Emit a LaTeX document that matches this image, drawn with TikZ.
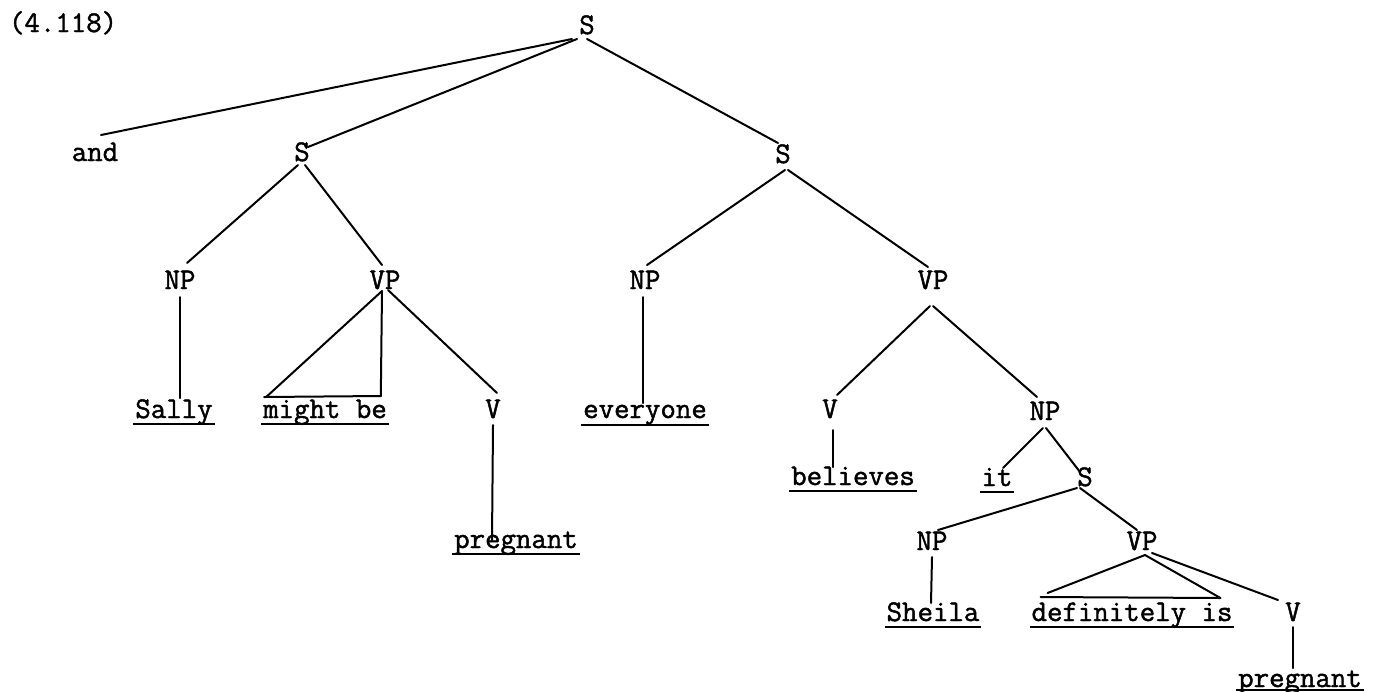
\documentclass[tikz,border=0pt]{standalone}
\usepackage{fontspec}
\newfontfamily\tw[FakeBold=1.5]{Latin Modern Mono}
\usetikzlibrary{calc}
\begin{document}
\begin{tikzpicture}[x=0.5pt,y=-0.5pt,
  lbl/.style={font=\tw\fontsize{15}{17}\selectfont, inner sep=0pt, outer sep=0pt, anchor=base},
  edge/.style={line width=1pt, line cap=round},
  uline/.style={line width=1pt}]
\useasboundingbox (0,0) rectangle (1379,691);
% nodes
\node[lbl, anchor=base west] (num) at (9,32) {(4.118)};
\node[lbl] (s0) at (587,34) {S};
\node[lbl] (and) at (95,161) {and};
\node[lbl] (s1) at (302,161) {S};
\node[lbl] (s2) at (783,163) {S};
\node[lbl] (np1) at (180,289) {NP};
\node[lbl] (vp1) at (385,289) {VP};
\node[lbl] (np2) at (645,289) {NP};
\node[lbl] (vp2) at (933,289) {VP};
\node[lbl] (sally) at (174,418) {Sally};
\node[lbl] (mightbe) at (325,418) {might be};
\node[lbl] (v1) at (493,418) {V};
\node[lbl] (everyone) at (645,418) {everyone};
\node[lbl] (v2) at (830,418) {V};
\node[lbl] (np3) at (1045,420) {NP};
\node[lbl] (preg1) at (516,548) {pregnant};
\node[lbl] (believes) at (853,485) {believes};
\node[lbl] (it) at (997,486) {it};
\node[lbl] (s3) at (1085,486) {S};
\node[lbl] (np4) at (932,550) {NP};
\node[lbl] (vp3) at (1142,550) {VP};
\node[lbl] (sheila) at (933,621) {Sheila};
\node[lbl] (defis) at (1132,621) {definitely is};
\node[lbl] (v3) at (1293,621) {V};
\node[lbl] (preg2) at (1300,687) {pregnant};
% underlines
\foreach \n/\d in {sally/6,mightbe/6,everyone/7,preg1/6,believes/6,it/6,sheila/6,defis/6,preg2/3}
  \draw[uline] ([shift={(-2,\d)}]\n.base west) -- ([shift={(2,\d)}]\n.base east);
% edges
\draw[edge] ([shift={(-15,5)}]s0.base) -- ([shift={(6,-26)}]and.base);
\draw[edge] ([shift={(-10,5)}]s0.base) -- ([shift={(6,-14)}]s1.base);
\draw[edge] ([shift={(0,5)}]s0.base) -- ([shift={(-5,-20)}]s2.base);
\draw[edge] ([shift={(-4,4)}]s1.base) -- ([shift={(7,-26)}]np1.base);
\draw[edge] ([shift={(3,4)}]s1.base) -- ([shift={(-3,-24)}]vp1.base);
\draw[edge] ([shift={(2,7)}]s2.base) -- ([shift={(2,-24)}]np2.base);
\draw[edge] ([shift={(5,7)}]s2.base) -- ([shift={(-5,-22)}]vp2.base);
\draw[edge] ([shift={(0,8)}]np1.base) -- ([shift={(6,-20)}]sally.base);
% triangle over "might be"
\draw[edge] ([shift={(-3,2)}]vp1.base) -- ([shift={(3,-21)}]mightbe.base west);
\draw[edge] ([shift={(-3,2)}]vp1.base) -- ([shift={(-6,-22)}]mightbe.base east);
\draw[edge] ([shift={(1,-21)}]mightbe.base west) -- ([shift={(-6,-22)}]mightbe.base east);
\draw[edge] ([shift={(3,1)}]vp1.base) -- ([shift={(4,-25)}]v1.base);
\draw[edge] ([shift={(0,7)}]v1.base) -- ([shift={(-24,-8)}]preg1.base);
\draw[edge] ([shift={(-2,8)}]np2.base) -- ([shift={(-2,-15)}]everyone.base);
\draw[edge] ([shift={(-3,17)}]vp2.base) -- ([shift={(7,-23)}]v2.base);
\draw[edge] ([shift={(0,17)}]vp2.base) -- ([shift={(-8,-23)}]np3.base);
\draw[edge] ([shift={(3,12)}]v2.base) -- ([shift={(-20,-18)}]believes.base);
\draw[edge] ([shift={(-2,8)}]np3.base) -- ([shift={(6,-18)}]it.base);
\draw[edge] ([shift={(1,8)}]np3.base) -- ([shift={(-5,-14)}]s3.base);
\draw[edge] ([shift={(-8,2)}]s3.base) -- ([shift={(6,-20)}]np4.base);
\draw[edge] ([shift={(-5,2)}]s3.base) -- ([shift={(-5,-20)}]vp3.base);
\draw[edge] ([shift={(0,7)}]np4.base) -- ([shift={(-2,-18)}]sheila.base);
% triangle over "definitely is"
\draw[edge] ([shift={(3,5)}]vp3.base) -- ([shift={(16,-28)}]defis.base west);
\draw[edge] ([shift={(3,5)}]vp3.base) -- ([shift={(-12,-23)}]defis.base east);
\draw[edge] ([shift={(9,-24)}]defis.base west) -- ([shift={(-12,-23)}]defis.base east);
\draw[edge] ([shift={(10,3)}]vp3.base) -- ([shift={(-15,-21)}]v3.base);
\draw[edge] ([shift={(0,6)}]v3.base) -- ([shift={(-7,-19)}]preg2.base);
\end{tikzpicture}
\end{document}
